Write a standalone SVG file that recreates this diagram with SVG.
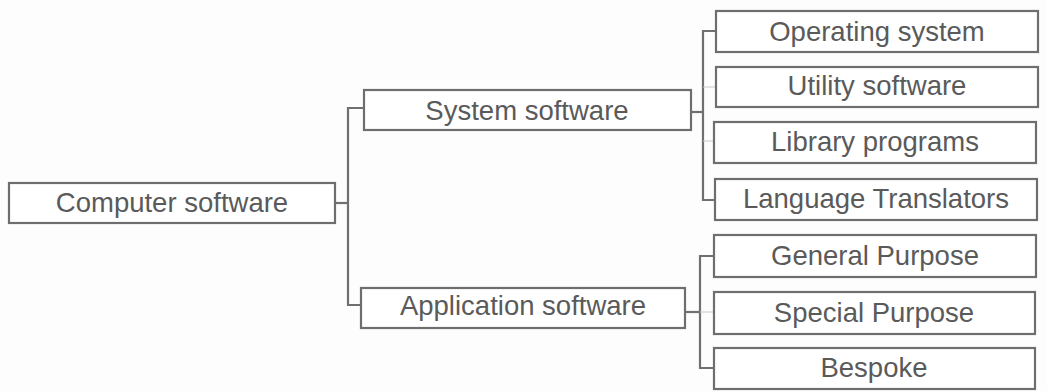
<svg xmlns="http://www.w3.org/2000/svg" width="1047" height="391" viewBox="0 0 1047 391">
  <style>
    .box { fill: #ffffff; stroke: #6e6e6e; stroke-width: 2.2; }
    .lbl { font-family: "Liberation Sans", Arial, sans-serif; font-size: 27.5px; fill: #5a5a5a; text-anchor: middle; dominant-baseline: central; }
    .conn { fill: none; stroke: #707070; stroke-width: 2.2; }
    .faint { fill: none; stroke: #c8c8c8; stroke-width: 1; }
  </style>
  <rect x="0" y="0" width="1047" height="391" fill="#fdfdfd"/>

  <g id="connectors">
    <polyline class="conn" points="335,203 348,203"/>
    <polyline class="conn" points="364,108 348,108 348,305 361,305"/>
    <polyline class="conn" points="691,112 703,112"/>
    <polyline class="conn" points="716,31 703,31 703,200 716,200"/>
    <line class="faint" x1="703" y1="87" x2="716" y2="87"/>
    <line class="faint" x1="703" y1="141" x2="714" y2="141"/>
    <polyline class="conn" points="685,312 700,312"/>
    <polyline class="conn" points="714,256 700,256 700,368 714,368"/>
    <line class="faint" x1="700" y1="312" x2="714" y2="312"/>
  </g>

  <g id="computer-software">
    <rect class="box" x="9" y="183" width="326" height="40"/>
    <text class="lbl" x="172" y="202">Computer software</text>
  </g>
  <g id="system-software">
    <rect class="box" x="364" y="90" width="327" height="40"/>
    <text class="lbl" x="527" y="110">System software</text>
  </g>
  <g id="application-software">
    <rect class="box" x="361" y="288" width="324" height="40"/>
    <text class="lbl" x="523" y="305">Application software</text>
  </g>

  <g id="operating-system">
    <rect class="box" x="716" y="11" width="322" height="41"/>
    <text class="lbl" x="877" y="31">Operating system</text>
  </g>
  <g id="utility-software">
    <rect class="box" x="716" y="67" width="322" height="40"/>
    <text class="lbl" x="877" y="85">Utility software</text>
  </g>
  <g id="library-programs">
    <rect class="box" x="714" y="122" width="322" height="41"/>
    <text class="lbl" x="875" y="141">Library programs</text>
  </g>
  <g id="language-translators">
    <rect class="box" x="715" y="179" width="322" height="41"/>
    <text class="lbl" x="876" y="198">Language Translators</text>
  </g>
  <g id="general-purpose">
    <rect class="box" x="714" y="235" width="322" height="42"/>
    <text class="lbl" x="875" y="255">General Purpose</text>
  </g>
  <g id="special-purpose">
    <rect class="box" x="714" y="292" width="321" height="42"/>
    <text class="lbl" x="874" y="312">Special Purpose</text>
  </g>
  <g id="bespoke">
    <rect class="box" x="714" y="348" width="321" height="41"/>
    <text class="lbl" x="874" y="367">Bespoke</text>
  </g>
</svg>
